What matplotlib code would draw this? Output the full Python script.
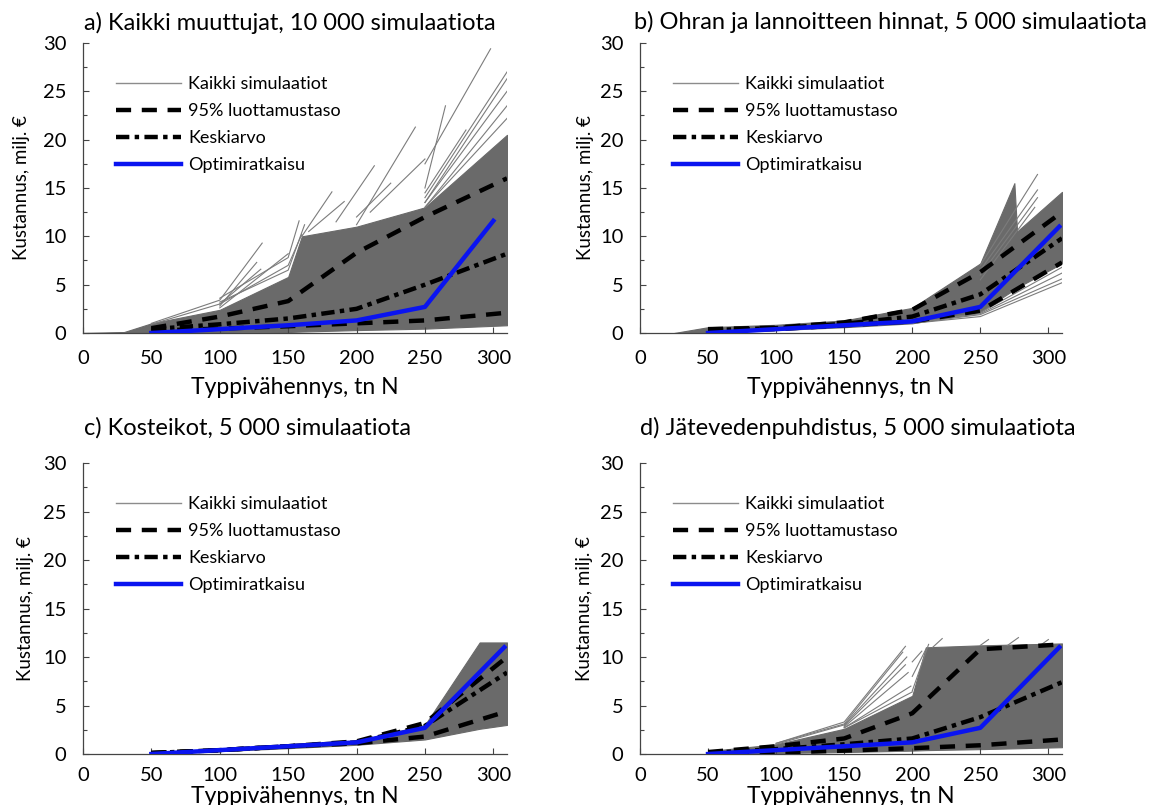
import matplotlib
matplotlib.use("Agg")
import matplotlib.pyplot as plt
from matplotlib.lines import Line2D

plt.rcParams['font.family'] = ['Lato', 'DejaVu Sans']

# shared x positions of the summary lines
line_x = [50, 100, 150, 200, 250, 310]
opt_x = [50, 100, 150, 200, 250, 308]
opt_y = [0.0, 0.4, 0.8, 1.2, 2.7, 11.0]

titles = ["a) Kaikki muuttujat, 10 000 simulaatiota",
          "b) Ohran ja lannoitteen hinnat, 5 000 simulaatiota",
          "c) Kosteikot, 5 000 simulaatiota",
          "d) Jätevedenpuhdistus, 5 000 simulaatiota"]
legend_labels = ["Kaikki simulaatiot", "95% luottamustaso", "Keskiarvo", "Optimiratkaisu"]
xticks = [0, 50, 100, 150, 200, 250, 300]
yticks = [0, 5, 10, 15, 20, 25, 30]

# a) all variables
a_env_x = [0, 30, 50, 100, 150, 160, 200, 250, 310]
a_env_hi = [0, 0.1, 1.0, 2.4, 5.8, 10.0, 11.0, 13.0, 20.5]
a_env_lo = [0, 0, 0, 0.05, 0.1, 0.15, 0.3, 0.45, 0.8]
a_ci_hi = [0.5, 1.7, 3.3, 8.3, 12.0, 16.0]
a_ci_lo = [0.25, 0.45, 0.7, 1.0, 1.3, 2.1]
a_mean = [0.4, 0.9, 1.5, 2.5, 5.0, 8.2]
a_opt_x = [50, 100, 150, 200, 250, 300]
a_opt_y = [0.0, 0.4, 0.8, 1.3, 2.7, 11.6]
a_spikes = [
    ([50, 100, 131], [1.0, 3.4, 9.3]),
    ([50, 100, 130], [0.9, 3.0, 6.6]),
    ([100, 127], [2.8, 7.3]),
    ([100, 150, 158], [3.6, 7.8, 11.6]),
    ([100, 150, 162], [3.2, 6.5, 11.2]),
    ([100, 150, 160], [3.0, 7.0, 10.2]),
    ([100, 150], [2.6, 8.2]),
    ([160, 182], [10.0, 14.6]),
    ([165, 191], [10.5, 13.6]),
    ([185, 213], [11.5, 17.3]),
    ([200, 243], [11.2, 21.3]),
    ([200, 225], [12.0, 15.5]),
    ([210, 250], [12.5, 18.0]),
    ([250, 265], [15.0, 23.5]),
    ([250, 298], [17.5, 29.4]),
    ([250, 310], [14.0, 27.0]),
    ([250, 310], [13.5, 26.3]),
    ([250, 310], [13.5, 25.0]),
    ([250, 310], [13.0, 23.5]),
    ([250, 310], [13.0, 22.2]),
    ([250, 280], [14.5, 21.0]),
]

# b) barley and fertiliser prices
b_env_x = [25, 50, 100, 150, 200, 250, 275, 277, 310]
b_env_hi = [0, 0.6, 0.85, 1.3, 2.6, 7.2, 15.5, 10.5, 14.6]
b_env_lo = [0, 0, 0.3, 0.6, 1.0, 2.2, 4.5, 4.7, 7.2]
b_ci_hi = [0.4, 0.55, 1.1, 2.4, 6.3, 12.5]
b_ci_lo = [0.3, 0.4, 0.8, 1.2, 2.3, 7.3]
b_mean = [0.3, 0.5, 0.95, 1.7, 4.0, 9.8]
b_spikes = [
    ([250, 292], [7.0, 16.4]),
    ([250, 292], [6.5, 14.8]),
    ([250, 292], [6.0, 14.0]),
    ([250, 290], [5.5, 13.0]),
    ([200, 250, 310], [1.0, 1.7, 5.2]),
    ([200, 250, 310], [1.0, 1.9, 5.6]),
    ([200, 250, 310], [1.0, 2.0, 6.2]),
    ([200, 250, 310], [1.0, 2.1, 6.8]),
]

# c) wetlands
c_env_x = [50, 100, 150, 200, 250, 290, 310]
c_env_hi = [0.2, 0.45, 0.85, 1.35, 3.0, 11.5, 11.5]
c_env_lo = [0, 0.3, 0.6, 0.95, 1.5, 2.6, 3.0]
c_ci_hi = [0.1, 0.4, 0.8, 1.3, 3.2, 10.0]
c_ci_lo = [0.1, 0.4, 0.8, 1.1, 1.8, 4.4]
c_mean = [0.1, 0.4, 0.8, 1.2, 2.9, 8.4]
c_spikes = []

# d) waste water treatment
d_env_x = [50, 100, 150, 200, 210, 250, 310]
d_env_hi = [0.3, 1.0, 2.6, 6.0, 11.0, 11.2, 11.4]
d_env_lo = [0, 0.1, 0.2, 0.35, 0.4, 0.5, 0.7]
d_ci_hi = [0.2, 0.8, 1.6, 4.2, 10.8, 11.3]
d_ci_lo = [0.05, 0.15, 0.35, 0.6, 0.9, 1.5]
d_mean = [0.1, 0.5, 1.0, 1.6, 3.8, 7.4]
d_spikes = [
    ([100, 150, 195], [1.1, 3.3, 11.1]),
    ([100, 150, 193], [1.1, 3.1, 10.5]),
    ([100, 150, 196], [1.0, 3.0, 10.0]),
    ([150, 195], [2.9, 9.2]),
    ([150, 197], [2.8, 8.4]),
    ([150, 199], [2.7, 7.0]),
    ([150, 200], [2.7, 6.4]),
    ([200, 212], [6.5, 11.3]),
    ([200, 210], [8.0, 10.8]),
    ([200, 207], [9.5, 10.6]),
    ([215, 222], [11.0, 11.9]),
    ([250, 256], [11.2, 11.8]),
    ([270, 278], [11.2, 12.0]),
    ([295, 300], [11.3, 11.8]),
]

panels = [
    (a_env_x, a_env_hi, a_env_lo, a_spikes, a_ci_hi, a_ci_lo, a_mean, a_opt_x, a_opt_y),
    (b_env_x, b_env_hi, b_env_lo, b_spikes, b_ci_hi, b_ci_lo, b_mean, opt_x, opt_y),
    (c_env_x, c_env_hi, c_env_lo, c_spikes, c_ci_hi, c_ci_lo, c_mean, opt_x, opt_y),
    (d_env_x, d_env_hi, d_env_lo, d_spikes, d_ci_hi, d_ci_lo, d_mean, opt_x, opt_y),
]

W, H = 1170, 805
# axes boxes in pixels: left, top, right, bottom
boxes = [(83, 43, 507, 333), (640, 43, 1062, 333),
         (83, 463, 507, 754), (640, 463, 1062, 754)]
title_pos = [(84, 23), (634, 22), (84, 428), (640, 428)]
ylabel_x = [22, 585, 26, 584]   # centre of the rotated y label, px
xlabel_off = [-0.152, -0.152, -0.11, -0.11]
xtick_pad = [12, 12, 9, 9]

gray = '#6a6a6a'
dash = (0, (3.4, 2.4))
dashdot = (0, (3.0, 1.2, 1.0, 1.2))

fig = plt.figure(figsize=(W / 100, H / 100), dpi=100)

for i, (ex, ehi, elo, spikes, cihi, cilo, mean, ox, oy) in enumerate(panels):
    l, t, r, b = boxes[i]
    ax = fig.add_axes([l / W, 1 - b / H, (r - l) / W, (b - t) / H])
    ax.fill_between(ex, elo, ehi, color=gray, lw=0.8, zorder=1)
    for sx, sy in spikes:
        ax.plot(sx, sy, color='#7c7c7c', lw=0.8, zorder=1)
    ax.plot(line_x, cihi, color='black', lw=3.2, ls=dash, zorder=3)
    ax.plot(line_x, cilo, color='black', lw=3.2, ls=dash, zorder=3)
    ax.plot(line_x, mean, color='black', lw=3.2, ls=dashdot, zorder=3)
    ax.plot(ox, oy, color='#0a14f0', lw=3.2, zorder=4)

    ax.set_xlim(0, 310)
    ax.set_ylim(0, 30)
    ax.set_xticks(xticks)
    ax.set_yticks(yticks)
    ax.set_yticks([2.5, 7.5, 12.5, 17.5, 22.5, 27.5], minor=True)
    ax.tick_params(axis='both', direction='in', length=4, width=0.8,
                   colors='#444444', labelcolor='black', labelsize=14.5)
    ax.tick_params(axis='y', which='minor', direction='in', length=3, width=0.8, colors='#444444')
    ax.tick_params(axis='x', pad=xtick_pad[i])
    ax.tick_params(axis='y', pad=12)
    for s in ['top', 'right']:
        ax.spines[s].set_visible(False)
    for s in ['left', 'bottom']:
        ax.spines[s].set_color('#444444')
        ax.spines[s].set_linewidth(0.9)

    ax.set_ylabel("Kustannus, milj. €", fontsize=13.5, va='center')
    ax.yaxis.set_label_coords((ylabel_x[i] - l) / (r - l), 0.5)
    ax.set_xlabel("Typpivähennys, tn N", fontsize=16.5)
    ax.xaxis.set_label_coords(0.5, xlabel_off[i])

    handles = [Line2D([], [], color='#8c8c8c', lw=1.0),
               Line2D([], [], color='black', lw=3.2, ls=dash),
               Line2D([], [], color='black', lw=3.2, ls=dashdot),
               Line2D([], [], color='#0a14f0', lw=3.2)]
    ax.legend(handles, legend_labels, loc='upper left', bbox_to_anchor=(0.078, 0.885),
              frameon=False, fontsize=13, handlelength=3.6, handletextpad=0.4,
              labelspacing=0.6, borderpad=0, borderaxespad=0)

    tx, ty = title_pos[i]
    fig.text(tx / W, 1 - ty / H, titles[i], fontsize=17, ha='left', va='center')

fig.savefig("out.png", dpi=100)
